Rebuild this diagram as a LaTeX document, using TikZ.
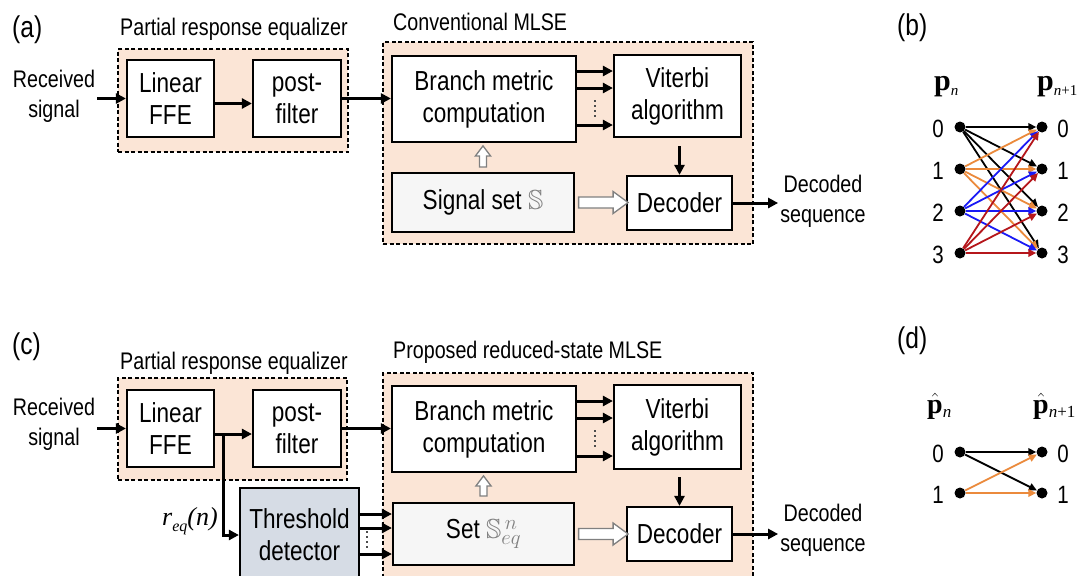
\documentclass[tikz,border=0pt]{standalone}
\usepackage{amssymb}
\usepackage{fontspec}
\setmainfont[FakeStretch=0.82]{Liberation Sans}
\newfontfamily\tmsfont{Liberation Serif}
\usetikzlibrary{arrows.meta,calc}
\definecolor{peach}{HTML}{FBE5D6}
\definecolor{thrblue}{HTML}{D6DCE5}
\definecolor{setgray}{HTML}{F6F6F6}
\definecolor{torange}{HTML}{EB8A3C}
\definecolor{tblue}{HTML}{1A1AF5}
\definecolor{tred}{HTML}{B5161B}
\newcommand{\mypvec}{{\tmsfont\bfseries p}}
\begin{document}
\begin{tikzpicture}[x=1pt,y=-1pt,
 blk/.style={draw, line width=2.2pt, fill=white, inner sep=0pt, align=center, font=\fontsize{27.5}{32}\selectfont},
 grp/.style={draw, line width=1.8pt, dash pattern=on 4pt off 2.5pt, fill=peach, inner sep=0pt},
 ttl/.style={anchor=base west, inner sep=0pt, font=\fontsize{24}{28}\selectfont},
 lbl/.style={align=center, inner sep=2pt, font=\fontsize{24}{30}\selectfont},
 plab/.style={anchor=base west, inner sep=0pt, font=\fontsize{30}{30}\selectfont},
 arr/.style={line width=3pt, -{Triangle[length=10pt,width=10pt]}},
 hol/.style={draw=gray, line width=1.3pt, fill=white},
 vd/.style={line width=2.2pt, dash pattern=on 2pt off 3pt, draw=black!70},
 dot/.style={circle, fill=black, inner sep=0pt, minimum size=11pt},
 num/.style={font=\fontsize{25}{25}\selectfont, inner sep=0pt},
 tarr/.style={line width=1.8pt, -{Triangle[length=8pt,width=7.5pt]}},
]
\useasboundingbox (0,0) rectangle (1088,576);
\fill[white] (0,0) rectangle (1088,576);
\clip (0,0) rectangle (1088,576);

% ================= (a) =================
\node[ttl, font=\fontsize{30}{30}\selectfont] (labA) at (12,37) {(a)};
\node[grp, minimum width=230pt, minimum height=103pt] (preA) at (233,100.5) {};
\node[ttl] (preAt) at (120,35) {Partial response equalizer};
\node[blk, minimum width=87pt, minimum height=77pt] (ffeA) at (170.5,98.5) {Linear\\FFE};
\node[blk, minimum width=88pt, minimum height=77pt] (postA) at (297,98.5) {post-\\filter};
\node[lbl] (recA) at (54,96) {Received\\signal};

\node[grp, minimum width=370pt, minimum height=202pt] (mlseA) at (568,143) {};
\node[ttl] (mlseAt) at (393,30) {Conventional MLSE};
\node[blk, minimum width=184pt, minimum height=86pt] (bmcA) at (484,99) {Branch metric\\computation};
\node[blk, minimum width=127pt, minimum height=82pt] (vitA) at (677.5,96) {Viterbi\\algorithm};
\node[blk, fill=setgray, minimum width=182pt, minimum height=59pt] (sigA) at (483,202.5) {Signal set \textcolor{gray}{$\mathbb{S}$}};
\node[blk, minimum width=105pt, minimum height=54pt] (decA) at (679.5,203) {Decoder};
\node[lbl] (outA) at (823,201) {Decoded\\sequence};

\draw[arr] (ffeA.west -| recA.east) -- (ffeA.west);
\draw[arr] ([yshift=-5pt]ffeA.east) -- ([yshift=-5pt]postA.west);
\draw[arr] (postA.east) -- (postA.east -| bmcA.west);
\foreach \dy in {28,11,-26}
  \draw[arr] ([yshift=\dy pt]bmcA.east) -- ([yshift=\dy pt]bmcA.east -| vitA.west);
\draw[vd] (595,100) -- (595,117);
\draw[arr] ($(vitA.south -| decA.north)+(0,8)$) -- (decA.north);
\draw[arr] (decA.east) -- (decA.east -| outA.west);
\draw[hol, shift={(sigA.north)}] (-3.5,-5) -- (-3.5,-16) -- (-7.5,-16) -- (0,-26) -- (7.5,-16) -- (3.5,-16) -- (3.5,-5) -- cycle;
\draw[hol, shift={(sigA.east)}] (3.5,-5.5) -- (38,-5.5) -- (38,-11) -- (53,0) -- (38,11) -- (38,5.5) -- (3.5,5.5) -- cycle;

% ================= (b) =================
\node[ttl, font=\fontsize{30}{30}\selectfont] (labB) at (897,35) {(b)};
\node[plab] (pnB) at (934,90) {\mypvec\raisebox{-5pt}{\fontsize{15}{15}\selectfont\tmsfont\itshape n}};
\node[plab] (pn1B) at (1037,90) {\mypvec\raisebox{-5pt}{\fontsize{15}{15}\selectfont\tmsfont\itshape n\upshape+1}};
\foreach \i/\y in {0/127,1/169,2/211,3/253} {
  \node[dot] (bl\i) at (960,\y) {};
  \node[dot] (br\i) at (1042,\y) {};
  \node[num] (bln\i) at (938,\y+2) {\i};
  \node[num] (brn\i) at (1063,\y+2) {\i};
}
\foreach \j in {0,...,3} \draw[tarr, black] (bl0) -- (br\j);
\foreach \j in {0,...,3} \draw[tarr, torange] (bl1) -- (br\j);
\foreach \j in {0,...,3} \draw[tarr, tblue] (bl2) -- (br\j);
\foreach \j in {0,...,3} \draw[tarr, tred] (bl3) -- (br\j);

% ================= (c) =================
\node[ttl, font=\fontsize{30}{30}\selectfont] (labC) at (12,354) {(c)};
\node[grp, minimum width=229pt, minimum height=102pt] (preC) at (232.5,429) {};
\node[ttl] (preCt) at (120,369) {Partial response equalizer};
\node[blk, minimum width=87pt, minimum height=77pt] (ffeC) at (170.5,428.5) {Linear\\FFE};
\node[blk, minimum width=88pt, minimum height=77pt] (postC) at (297,428.5) {post-\\filter};
\node[lbl] (recC) at (54,424) {Received\\signal};

\node[grp, minimum width=370pt, minimum height=210pt] (mlseC) at (568,478) {};
\node[ttl] (mlseCt) at (393,358) {Proposed reduced-state MLSE};
\node[blk, minimum width=184pt, minimum height=86pt] (bmcC) at (484,429) {Branch metric\\computation};
\node[blk, minimum width=127pt, minimum height=84pt] (vitC) at (677.5,427) {Viterbi\\algorithm};
\node[blk, fill=setgray, minimum width=181pt, minimum height=62pt] (setC) at (483.5,534) {Set \textcolor{gray}{$\mathbb{S}^{\,n}_{eq}$}};
\node[blk, minimum width=105pt, minimum height=54pt] (decC) at (679.5,534) {Decoder};
\node[lbl] (outC) at (823,530) {Decoded\\sequence};
\node[blk, fill=thrblue, minimum width=119pt, minimum height=94pt] (thrC) at (299.5,535) {Threshold\\detector};
\node[inner sep=1pt, font=\fontsize{26}{26}\selectfont\tmsfont\itshape] (reqC) at (190,521) {r\raisebox{-6pt}{\fontsize{16}{16}\selectfont eq}(n)};

\draw[arr] (ffeC.west -| recC.east) -- (ffeC.west);
\draw[arr] ([yshift=-5.5pt]ffeC.east) -- ([yshift=-5.5pt]postC.west);
\coordinate (jn) at ($(ffeC.east)+(8,5.5)$);
\draw[arr] (jn) |- (thrC.west);
\draw[arr] (postC.east) -- (postC.east -| bmcC.west);
\foreach \dy in {28,11,-27}
  \draw[arr] ([yshift=\dy pt]bmcC.east) -- ([yshift=\dy pt]bmcC.east -| vitC.west);
\draw[vd] (595,430) -- (595,447);
\foreach \dy in {21,7,-19}
  \draw[arr] ([yshift=\dy pt]thrC.east) -- ([yshift=\dy pt]thrC.east -| setC.west);
\draw[vd] (367,531) -- (367,548);
\draw[arr] ($(vitC.south -| decC.north)+(0,7)$) -- (decC.north);
\draw[arr] (decC.east) -- (decC.east -| outC.west);
\draw[hol, shift={(setC.north)}] (-3.5,-6) -- (-3.5,-16) -- (-7.5,-16) -- (0,-26) -- (7.5,-16) -- (3.5,-16) -- (3.5,-6) -- cycle;
\draw[hol, shift={(setC.east)}] (3.5,-5.5) -- (38,-5.5) -- (38,-11) -- (53,0) -- (38,11) -- (38,5.5) -- (3.5,5.5) -- cycle;

% ================= (d) =================
\node[ttl, font=\fontsize{30}{30}\selectfont] (labD) at (897,348) {(d)};
\node[plab, font=\fontsize{28}{28}\selectfont] (pnD) at (927,413) {$\hat{\mbox{\mypvec}}$\raisebox{-4pt}{\fontsize{17}{17}\selectfont\tmsfont\itshape n}};
\node[plab, font=\fontsize{28}{28}\selectfont] (pn1D) at (1033,413) {$\hat{\mbox{\mypvec}}$\raisebox{-4pt}{\fontsize{17}{17}\selectfont\tmsfont\itshape n\upshape+1}};
\foreach \i/\y in {0/452,1/493} {
  \node[dot] (dl\i) at (960,\y) {};
  \node[dot] (dr\i) at (1042,\y) {};
  \node[num] (dln\i) at (938,\y+2) {\i};
  \node[num] (drn\i) at (1063,\y+2) {\i};
}
\draw[tarr, black] (dl0) -- (dr0);
\draw[tarr, black] (dl0) -- (dr1);
\draw[tarr, torange] (dl1) -- (dr0);
\draw[tarr, torange] (dl1) -- (dr1);
\end{tikzpicture}
\end{document}
